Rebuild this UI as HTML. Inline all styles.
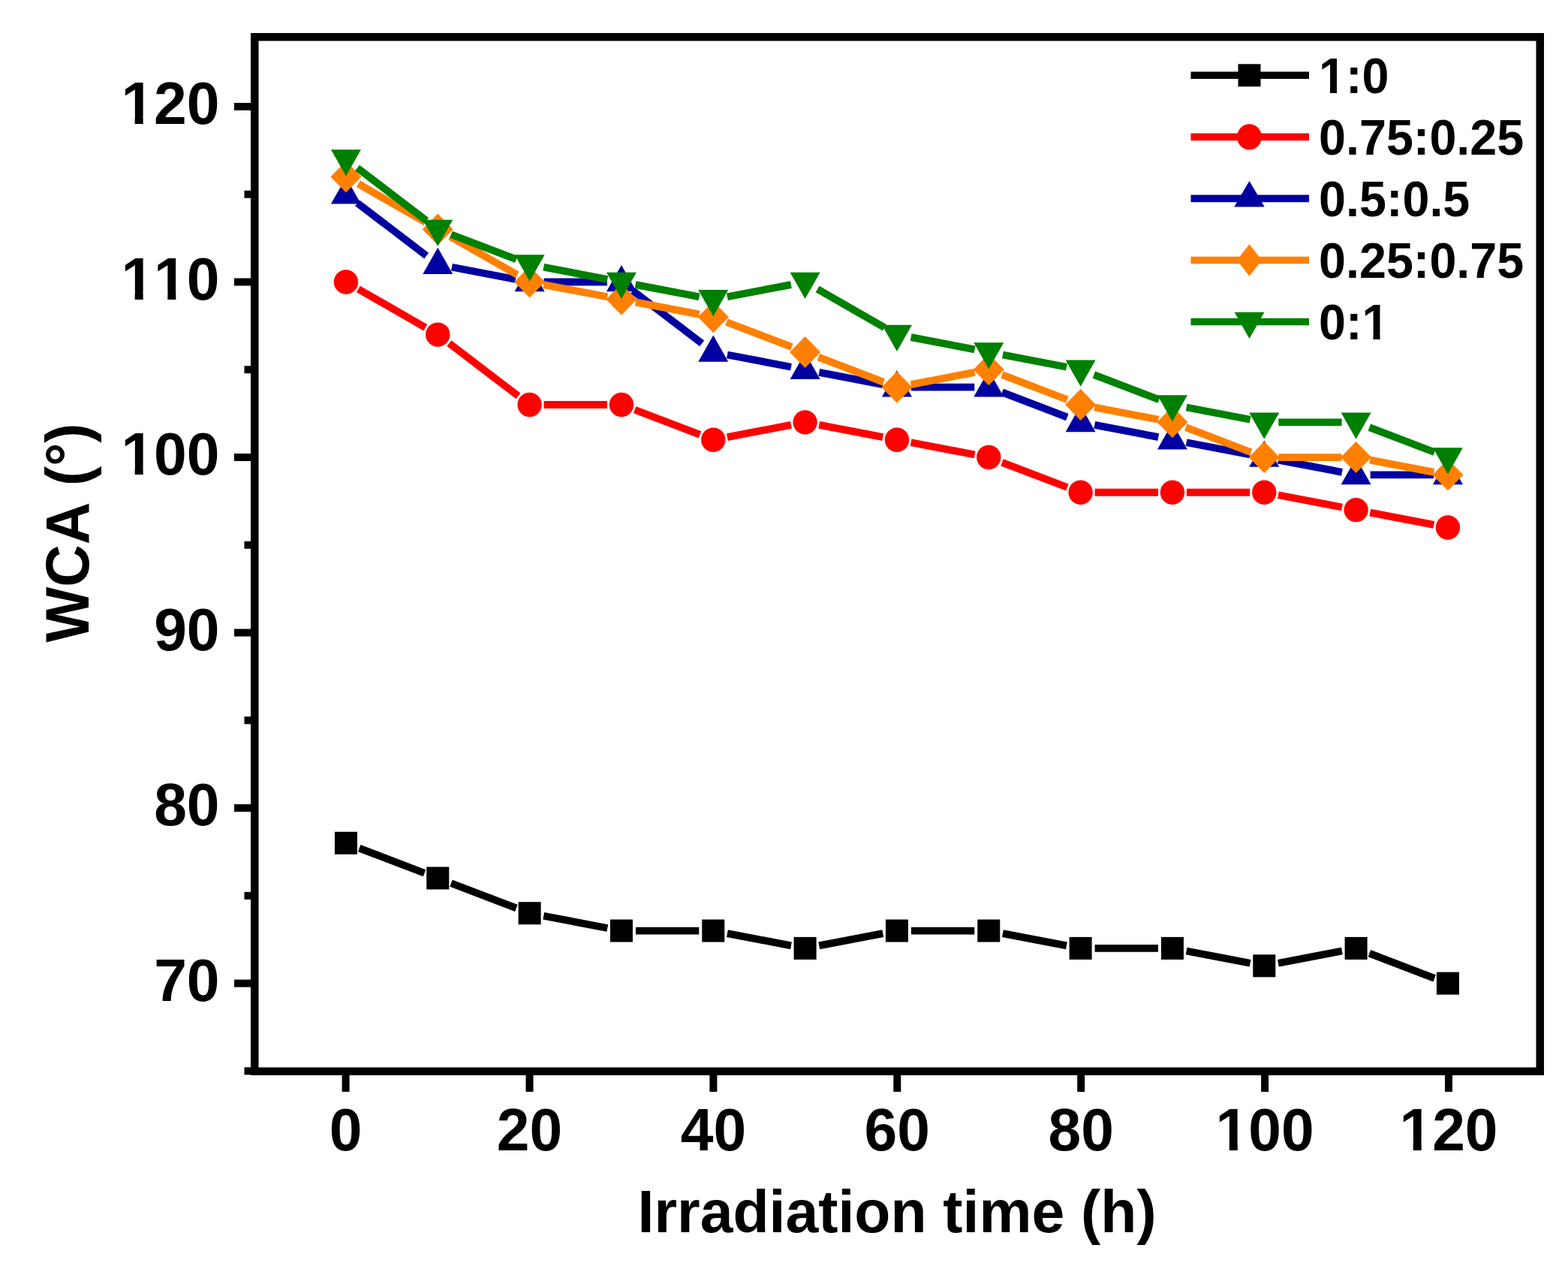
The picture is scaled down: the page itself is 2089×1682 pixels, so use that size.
<!DOCTYPE html>
<html><head><meta charset="utf-8"><title>WCA vs irradiation time</title>
<style>
html,body{margin:0;padding:0;background:#fff;}
body{width:2089px;height:1682px;overflow:hidden;}
svg{display:block;}
text{font-family:"Liberation Sans",Arial,sans-serif;font-weight:bold;fill:#000;font-kerning:none;}
</style></head><body>
<svg width="2089" height="1682" viewBox="0 0 2089 1682">
<rect x="0" y="0" width="2089" height="1682" fill="#fff"/>
<path d="M478.68,1129.56L565.51,1162.71M601.02,1176.26L687.85,1209.42M724.26,1219.75L809.27,1235.98M846.93,1239.54L931.27,1239.54M968.93,1243.11L1053.94,1259.33M1091.27,1259.33L1176.28,1243.11M1213.94,1239.54L1298.27,1239.54M1335.94,1243.11L1420.95,1259.33M1458.61,1262.90L1542.94,1262.90M1580.61,1266.46L1665.62,1282.69M1702.94,1282.69L1787.95,1266.46M1824.37,1269.67L1911.20,1302.82" stroke="#000000" stroke-width="9.8" fill="none" stroke-linecap="butt"/>
<rect x="445.93" y="1107.78" width="30.00" height="30.00" fill="#000000"/>
<rect x="568.26" y="1154.49" width="30.00" height="30.00" fill="#000000"/>
<rect x="690.60" y="1201.19" width="30.00" height="30.00" fill="#000000"/>
<rect x="812.93" y="1224.54" width="30.00" height="30.00" fill="#000000"/>
<rect x="935.27" y="1224.54" width="30.00" height="30.00" fill="#000000"/>
<rect x="1057.61" y="1247.90" width="30.00" height="30.00" fill="#000000"/>
<rect x="1179.94" y="1224.54" width="30.00" height="30.00" fill="#000000"/>
<rect x="1302.27" y="1224.54" width="30.00" height="30.00" fill="#000000"/>
<rect x="1424.61" y="1247.90" width="30.00" height="30.00" fill="#000000"/>
<rect x="1546.94" y="1247.90" width="30.00" height="30.00" fill="#000000"/>
<rect x="1669.28" y="1271.25" width="30.00" height="30.00" fill="#000000"/>
<rect x="1791.62" y="1247.90" width="30.00" height="30.00" fill="#000000"/>
<rect x="1913.95" y="1294.60" width="30.00" height="30.00" fill="#000000"/>
<path d="M477.42,384.96L566.78,436.13M598.37,457.11L690.50,527.45M724.60,538.98L808.93,538.98M845.69,545.76L932.52,578.91M968.93,582.13L1053.94,565.90M1091.27,565.90L1176.28,582.13M1213.60,589.25L1298.61,605.48M1335.03,615.82L1421.86,648.97M1458.61,655.74L1542.94,655.74M1580.94,655.74L1665.28,655.74M1702.94,659.31L1787.95,675.53M1825.28,682.66L1910.29,698.89" stroke="#FF0000" stroke-width="9.8" fill="none" stroke-linecap="butt"/>
<circle cx="460.93" cy="375.52" r="16.20" fill="#FF0000"/>
<circle cx="583.26" cy="445.58" r="16.20" fill="#FF0000"/>
<circle cx="705.60" cy="538.98" r="16.20" fill="#FF0000"/>
<circle cx="827.93" cy="538.98" r="16.20" fill="#FF0000"/>
<circle cx="950.27" cy="585.69" r="16.20" fill="#FF0000"/>
<circle cx="1072.61" cy="562.34" r="16.20" fill="#FF0000"/>
<circle cx="1194.94" cy="585.69" r="16.20" fill="#FF0000"/>
<circle cx="1317.27" cy="609.04" r="16.20" fill="#FF0000"/>
<circle cx="1439.61" cy="655.74" r="16.20" fill="#FF0000"/>
<circle cx="1561.94" cy="655.74" r="16.20" fill="#FF0000"/>
<circle cx="1684.28" cy="655.74" r="16.20" fill="#FF0000"/>
<circle cx="1806.62" cy="679.10" r="16.20" fill="#FF0000"/>
<circle cx="1928.95" cy="702.45" r="16.20" fill="#FF0000"/>
<path d="M476.03,270.29L568.16,340.64M601.93,355.73L686.94,371.96M724.60,375.52L808.93,375.52M843.04,387.05L935.17,457.40M968.93,472.49L1053.94,488.72M1091.27,495.84L1176.28,512.07M1213.94,515.63L1298.27,515.63M1335.03,522.41L1421.86,555.56M1458.27,565.90L1543.28,582.13M1580.61,589.25L1665.62,605.48M1702.94,612.60L1787.95,628.83M1825.62,632.39L1909.95,632.39" stroke="#0000A0" stroke-width="9.8" fill="none" stroke-linecap="butt"/>
<polygon points="460.93,236.26 480.93,271.56 440.93,271.56" fill="#0000A0"/>
<polygon points="583.26,329.67 603.26,364.97 563.26,364.97" fill="#0000A0"/>
<polygon points="705.60,353.02 725.60,388.32 685.60,388.32" fill="#0000A0"/>
<polygon points="827.93,353.02 847.93,388.32 807.93,388.32" fill="#0000A0"/>
<polygon points="950.27,446.43 970.27,481.73 930.27,481.73" fill="#0000A0"/>
<polygon points="1072.61,469.78 1092.61,505.08 1052.61,505.08" fill="#0000A0"/>
<polygon points="1194.94,493.13 1214.94,528.43 1174.94,528.43" fill="#0000A0"/>
<polygon points="1317.27,493.13 1337.27,528.43 1297.27,528.43" fill="#0000A0"/>
<polygon points="1439.61,539.84 1459.61,575.14 1419.61,575.14" fill="#0000A0"/>
<polygon points="1561.94,563.19 1581.94,598.49 1541.94,598.49" fill="#0000A0"/>
<polygon points="1684.28,586.54 1704.28,621.84 1664.28,621.84" fill="#0000A0"/>
<polygon points="1806.62,609.89 1826.62,645.19 1786.62,645.19" fill="#0000A0"/>
<polygon points="1928.95,609.89 1948.95,645.19 1908.95,645.19" fill="#0000A0"/>
<path d="M477.42,244.85L566.78,296.02M599.75,314.91L689.11,366.08M724.26,379.08L809.27,395.31M846.60,402.43L931.61,418.66M968.02,429.00L1054.85,462.15M1090.36,475.70L1177.19,508.86M1213.60,512.07L1298.61,495.84M1335.03,499.06L1421.86,532.21M1458.27,542.55L1543.28,558.77M1579.70,569.11L1666.53,602.26M1703.28,609.04L1787.62,609.04M1825.28,612.60L1910.29,628.83" stroke="#FF8000" stroke-width="9.8" fill="none" stroke-linecap="butt"/>
<polygon points="460.93,214.41 481.43,235.41 460.93,256.41 440.43,235.41" fill="#FF8000"/>
<polygon points="583.26,284.46 603.76,305.46 583.26,326.46 562.76,305.46" fill="#FF8000"/>
<polygon points="705.60,354.52 726.10,375.52 705.60,396.52 685.10,375.52" fill="#FF8000"/>
<polygon points="827.93,377.87 848.43,398.87 827.93,419.87 807.43,398.87" fill="#FF8000"/>
<polygon points="950.27,401.22 970.77,422.22 950.27,443.22 929.77,422.22" fill="#FF8000"/>
<polygon points="1072.61,447.93 1093.11,468.93 1072.61,489.93 1052.11,468.93" fill="#FF8000"/>
<polygon points="1194.94,494.63 1215.44,515.63 1194.94,536.63 1174.44,515.63" fill="#FF8000"/>
<polygon points="1317.27,471.28 1337.77,492.28 1317.27,513.28 1296.77,492.28" fill="#FF8000"/>
<polygon points="1439.61,517.98 1460.11,538.98 1439.61,559.98 1419.11,538.98" fill="#FF8000"/>
<polygon points="1561.94,541.34 1582.44,562.34 1561.94,583.34 1541.44,562.34" fill="#FF8000"/>
<polygon points="1684.28,588.04 1704.78,609.04 1684.28,630.04 1663.78,609.04" fill="#FF8000"/>
<polygon points="1806.62,588.04 1827.12,609.04 1806.62,630.04 1786.12,609.04" fill="#FF8000"/>
<polygon points="1928.95,611.39 1949.45,632.39 1928.95,653.39 1908.45,632.39" fill="#FF8000"/>
<path d="M476.03,223.59L568.16,293.93M601.02,312.24L687.85,345.39M724.26,355.73L809.27,371.96M846.60,379.08L931.61,395.31M968.93,395.31L1053.94,379.08M1089.09,384.96L1178.45,436.13M1213.60,449.14L1298.61,465.37M1335.94,472.49L1420.95,488.72M1457.36,499.06L1544.19,532.21M1580.61,542.55L1665.62,558.77M1703.28,562.34L1787.62,562.34M1824.37,569.11L1911.20,602.26" stroke="#008000" stroke-width="9.8" fill="none" stroke-linecap="butt"/>
<polygon points="460.93,234.56 480.93,199.26 440.93,199.26" fill="#008000"/>
<polygon points="583.26,327.96 603.26,292.66 563.26,292.66" fill="#008000"/>
<polygon points="705.60,374.67 725.60,339.37 685.60,339.37" fill="#008000"/>
<polygon points="827.93,398.02 847.93,362.72 807.93,362.72" fill="#008000"/>
<polygon points="950.27,421.37 970.27,386.07 930.27,386.07" fill="#008000"/>
<polygon points="1072.61,398.02 1092.61,362.72 1052.61,362.72" fill="#008000"/>
<polygon points="1194.94,468.08 1214.94,432.78 1174.94,432.78" fill="#008000"/>
<polygon points="1317.27,491.43 1337.27,456.13 1297.27,456.13" fill="#008000"/>
<polygon points="1439.61,514.78 1459.61,479.48 1419.61,479.48" fill="#008000"/>
<polygon points="1561.94,561.48 1581.94,526.18 1541.94,526.18" fill="#008000"/>
<polygon points="1684.28,584.84 1704.28,549.54 1664.28,549.54" fill="#008000"/>
<polygon points="1806.62,584.84 1826.62,549.54 1786.62,549.54" fill="#008000"/>
<polygon points="1928.95,631.54 1948.95,596.24 1908.95,596.24" fill="#008000"/>
<rect x="334.0" y="44.0" width="1723.0" height="10.5" fill="#000"/>
<rect x="334.0" y="1421.5" width="1723.0" height="10.5" fill="#000"/>
<rect x="334.0" y="44.0" width="10.5" height="1388.0" fill="#000"/>
<rect x="2046.5" y="44.0" width="10.5" height="1388.0" fill="#000"/>
<rect x="325.5" y="1421.36" width="9.5" height="10.0" fill="#000"/>
<rect x="312" y="1304.60" width="23.0" height="10.0" fill="#000"/>
<g transform="translate(292.5,1332.60) scale(0.982,1)"><text id="y70" x="0" y="0" font-size="80" text-anchor="end">70</text></g>
<rect x="325.5" y="1187.84" width="9.5" height="10.0" fill="#000"/>
<rect x="312" y="1071.08" width="23.0" height="10.0" fill="#000"/>
<g transform="translate(292.5,1099.08) scale(0.982,1)"><text id="y80" x="0" y="0" font-size="80" text-anchor="end">80</text></g>
<rect x="325.5" y="954.32" width="9.5" height="10.0" fill="#000"/>
<rect x="312" y="837.56" width="23.0" height="10.0" fill="#000"/>
<g transform="translate(292.5,865.56) scale(0.982,1)"><text id="y90" x="0" y="0" font-size="80" text-anchor="end">90</text></g>
<rect x="325.5" y="720.80" width="9.5" height="10.0" fill="#000"/>
<rect x="312" y="604.04" width="23.0" height="10.0" fill="#000"/>
<g transform="translate(292.5,632.04) scale(0.982,1)"><text id="y100" x="0" y="0" font-size="80" text-anchor="end">100</text><rect x="-129.62" y="-9.76" width="14.73" height="11.76" fill="#fff"/><rect x="-103.71" y="-9.76" width="13.72" height="11.76" fill="#fff"/></g>
<rect x="325.5" y="487.28" width="9.5" height="10.0" fill="#000"/>
<rect x="312" y="370.52" width="23.0" height="10.0" fill="#000"/>
<g transform="translate(292.5,398.52) scale(0.982,1)"><text id="y110" x="0" y="0" font-size="80" text-anchor="end">110</text><rect x="-129.62" y="-9.76" width="14.73" height="11.76" fill="#fff"/><rect x="-103.71" y="-9.76" width="13.72" height="11.76" fill="#fff"/><rect x="-85.15" y="-9.76" width="14.73" height="11.76" fill="#fff"/><rect x="-59.24" y="-9.76" width="13.72" height="11.76" fill="#fff"/></g>
<rect x="325.5" y="253.76" width="9.5" height="10.0" fill="#000"/>
<rect x="312" y="137.00" width="23.0" height="10.0" fill="#000"/>
<g transform="translate(292.5,165.00) scale(0.982,1)"><text id="y120" x="0" y="0" font-size="80" text-anchor="end">120</text><rect x="-129.62" y="-9.76" width="14.73" height="11.76" fill="#fff"/><rect x="-103.71" y="-9.76" width="13.72" height="11.76" fill="#fff"/></g>
<rect x="455.60" y="1431.0" width="10.0" height="23.0" fill="#000"/>
<g transform="translate(460.60,1532) scale(0.982,1)"><text id="x0" x="0" y="0" font-size="80" text-anchor="middle">0</text></g>
<rect x="700.50" y="1431.0" width="10.0" height="23.0" fill="#000"/>
<g transform="translate(705.50,1532) scale(0.982,1)"><text id="x20" x="0" y="0" font-size="80" text-anchor="middle">20</text></g>
<rect x="945.40" y="1431.0" width="10.0" height="23.0" fill="#000"/>
<g transform="translate(950.40,1532) scale(0.982,1)"><text id="x40" x="0" y="0" font-size="80" text-anchor="middle">40</text></g>
<rect x="1190.30" y="1431.0" width="10.0" height="23.0" fill="#000"/>
<g transform="translate(1195.30,1532) scale(0.982,1)"><text id="x60" x="0" y="0" font-size="80" text-anchor="middle">60</text></g>
<rect x="1435.20" y="1431.0" width="10.0" height="23.0" fill="#000"/>
<g transform="translate(1440.20,1532) scale(0.982,1)"><text id="x80" x="0" y="0" font-size="80" text-anchor="middle">80</text></g>
<rect x="1680.10" y="1431.0" width="10.0" height="23.0" fill="#000"/>
<g transform="translate(1685.10,1532) scale(0.982,1)"><text id="x100" x="0" y="0" font-size="80" text-anchor="middle">100</text><rect x="-62.89" y="-9.76" width="14.73" height="11.76" fill="#fff"/><rect x="-36.98" y="-9.76" width="13.72" height="11.76" fill="#fff"/></g>
<rect x="1925.00" y="1431.0" width="10.0" height="23.0" fill="#000"/>
<g transform="translate(1930.00,1532) scale(0.982,1)"><text id="x120" x="0" y="0" font-size="80" text-anchor="middle">120</text><rect x="-62.89" y="-9.76" width="14.73" height="11.76" fill="#fff"/><rect x="-36.98" y="-9.76" width="13.72" height="11.76" fill="#fff"/></g>
<text transform="translate(1195.1,1641.1) scale(0.984,1)" font-size="80" text-anchor="middle">Irradiation time (h)</text>
<text transform="translate(117.8,709.6) rotate(-90) scale(0.977,1.03)" font-size="80" text-anchor="middle">WCA (°)</text>
<path d="M1586.5,100.30L1744,100.30" stroke="#000000" stroke-width="9.6" fill="none"/>
<rect x="1649.50" y="85.30" width="30.00" height="30.00" fill="#000000"/>
<g transform="translate(1757,123.70) scale(0.98,1)"><text id="L0" x="0" y="0" font-size="66" text-anchor="start">1:0</text><rect x="2.96" y="-8.34" width="12.35" height="10.34" fill="#fff"/><rect x="24.56" y="-8.34" width="11.51" height="10.34" fill="#fff"/></g>
<path d="M1586.5,182.35L1744,182.35" stroke="#FF0000" stroke-width="9.6" fill="none"/>
<ellipse cx="1664.50" cy="182.35" rx="16.4" ry="17.2" fill="#FF0000"/>
<g transform="translate(1757,205.75) scale(0.98,1)"><text id="L1" x="0" y="0" font-size="66" text-anchor="start">0.75:0.25</text></g>
<path d="M1586.5,264.40L1744,264.40" stroke="#0000A0" stroke-width="9.6" fill="none"/>
<polygon points="1664.50,241.00 1684.70,275.40 1644.30,275.40" fill="#0000A0"/>
<g transform="translate(1757,287.80) scale(0.98,1)"><text id="L2" x="0" y="0" font-size="66" text-anchor="start">0.5:0.5</text></g>
<path d="M1586.5,346.45L1744,346.45" stroke="#FF8000" stroke-width="9.6" fill="none"/>
<polygon points="1664.50,325.25 1681.10,346.45 1664.50,367.65 1647.90,346.45" fill="#FF8000"/>
<g transform="translate(1757,369.85) scale(0.98,1)"><text id="L3" x="0" y="0" font-size="66" text-anchor="start">0.25:0.75</text></g>
<path d="M1586.5,428.50L1744,428.50" stroke="#008000" stroke-width="9.6" fill="none"/>
<polygon points="1664.50,451.00 1684.50,415.70 1644.50,415.70" fill="#008000"/>
<g transform="translate(1757,451.90) scale(0.98,1)"><text id="L4" x="0" y="0" font-size="66" text-anchor="start">0:1</text><rect x="61.62" y="-8.34" width="12.35" height="10.34" fill="#fff"/><rect x="83.22" y="-8.34" width="11.51" height="10.34" fill="#fff"/></g>
</svg></body></html>
